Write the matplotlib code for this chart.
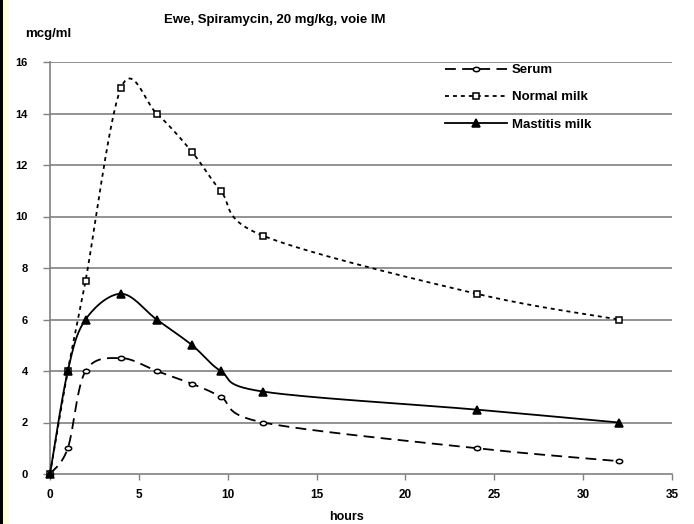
import numpy as np
import matplotlib
matplotlib.use("Agg")
import matplotlib.pyplot as plt
from matplotlib.lines import Line2D
from matplotlib.patches import Rectangle

plt.rcParams['font.family'] = ['Liberation Sans', 'DejaVu Sans']

# ---- data ----
hours = [0, 1, 2, 4, 6, 8, 9.6, 12, 24, 32]
serum = [0, 1, 4, 4.5, 4, 3.5, 3, 2, 1, 0.5]
normal_milk = [0, 4, 7.5, 15, 14, 12.5, 11, 9.25, 7, 6]
mastitis_milk = [0, 4, 6, 7, 6, 5, 4, 3.2, 2.5, 2]
series_names = ["Serum", "Normal milk", "Mastitis milk"]
x_ticks = [0, 5, 10, 15, 20, 25, 30, 35]
y_ticks = [0, 2, 4, 6, 8, 10, 12, 14, 16]

W, H = 694, 524
fig = plt.figure(figsize=(W / 100, H / 100), dpi=100)
fig.patch.set_facecolor('white')

# left border (black line + pale yellow strip)
fig.add_artist(Rectangle((0, 0), 3 / W, 1, transform=fig.transFigure,
                         facecolor='black', edgecolor='none', zorder=0))
fig.add_artist(Rectangle((3 / W, 0), 6 / W, 1, transform=fig.transFigure,
                         facecolor='#fffde0', edgecolor='none', zorder=0))

left, right, top, bottom = 50, 672, 62, 474
ax = fig.add_axes([left / W, (H - bottom) / H, (right - left) / W, (bottom - top) / H])
ax.set_xlim(0, 35)
ax.set_ylim(0, 16)

sx = (right - left) / 35.0
sy = (bottom - top) / 16.0


def smooth(xs, ys, n=30):
    """Excel-style smoothed line (Bezier with Catmull-Rom control points)."""
    P = np.column_stack([np.asarray(xs, float) * sx, np.asarray(ys, float) * sy])
    m = len(P)
    out = []
    for i in range(m - 1):
        p0 = P[i - 1] if i > 0 else P[i]
        p1 = P[i]
        p2 = P[i + 1]
        p3 = P[i + 2] if i + 2 < m else P[i + 1]
        c1 = p1 + (p2 - p0) / 6.0
        c2 = p2 - (p3 - p1) / 6.0
        t = np.linspace(0, 1, n)[:, None]
        seg = ((1 - t) ** 3) * p1 + 3 * ((1 - t) ** 2) * t * c1 + 3 * (1 - t) * t ** 2 * c2 + t ** 3 * p2
        if i > 0:
            seg = seg[1:]
        out.append(seg)
    Q = np.vstack(out)
    return Q[:, 0] / sx, Q[:, 1] / sy


# grid
for yv in y_ticks[1:]:
    ax.axhline(yv, color='#808080', lw=1.2, zorder=1)
for s in ['top', 'right']:
    ax.spines[s].set_visible(False)
for s in ['left', 'bottom']:
    ax.spines[s].set_color('#808080')
    ax.spines[s].set_linewidth(1.2)

# horizontally stretched ellipse marker for serum
theta = np.linspace(0, 2 * np.pi, 40)
ellipse = np.column_stack([1.25 * np.cos(theta), 0.85 * np.sin(theta)])

lw = 1.3
styles = [
    dict(data=serum, ls=(0, (6, 3.5)), marker=ellipse, ms=4.6, mfc='white'),
    dict(data=normal_milk, ls=(0, (2.2, 2.2)), marker='s', ms=5, mfc='white'),
    dict(data=mastitis_milk, ls='-', marker='^', ms=6, mfc='black'),
]
handles = []
for name, st in zip(series_names, styles):
    xs, ys = smooth(hours, st['data'])
    ax.plot(xs, ys, color='black', lw=lw, ls=st['ls'], zorder=3, clip_on=False)
    ax.plot(hours, st['data'], ls='none', marker=st['marker'], ms=st['ms'],
            mfc=st['mfc'], mec='black', mew=1.1, zorder=4, clip_on=False)
    handles.append(Line2D([], [], color='black', lw=lw, ls=st['ls'], marker=st['marker'],
                          ms=st['ms'], mfc=st['mfc'], mec='black', mew=1.1, label=name))

ax.set_xticks(x_ticks)
ax.set_yticks(y_ticks)
ax.tick_params(axis='x', length=4, width=1, color='#808080', pad=7, labelsize=8.5)
ax.tick_params(axis='y', length=5, width=1, color='#808080', pad=11, labelsize=8)
for lab in ax.get_xticklabels() + ax.get_yticklabels():
    lab.set_fontweight('bold')

fig.text(275 / W, 1 - 20 / H, "Ewe, Spiramycin, 20 mg/kg, voie IM", ha='center', va='center',
         fontsize=9.5, fontweight='bold')
fig.text(25 / W, 1 - 34 / H, "mcg/ml", ha='left', va='center', fontsize=9.5, fontweight='bold')
fig.text(347 / W, 1 - 517 / H, "hours", ha='center', va='center', fontsize=9, fontweight='bold')

leg = fig.legend(handles=handles, loc='upper left', bbox_to_anchor=(445 / W, 1 - 64 / H),
                 frameon=False, prop={'weight': 'bold', 'size': 9.5},
                 handlelength=4.7, handletextpad=0.38, labelspacing=1.13,
                 borderpad=0, borderaxespad=0, numpoints=1, markerfirst=True)

fig.savefig("out.png", dpi=100, facecolor='white')
